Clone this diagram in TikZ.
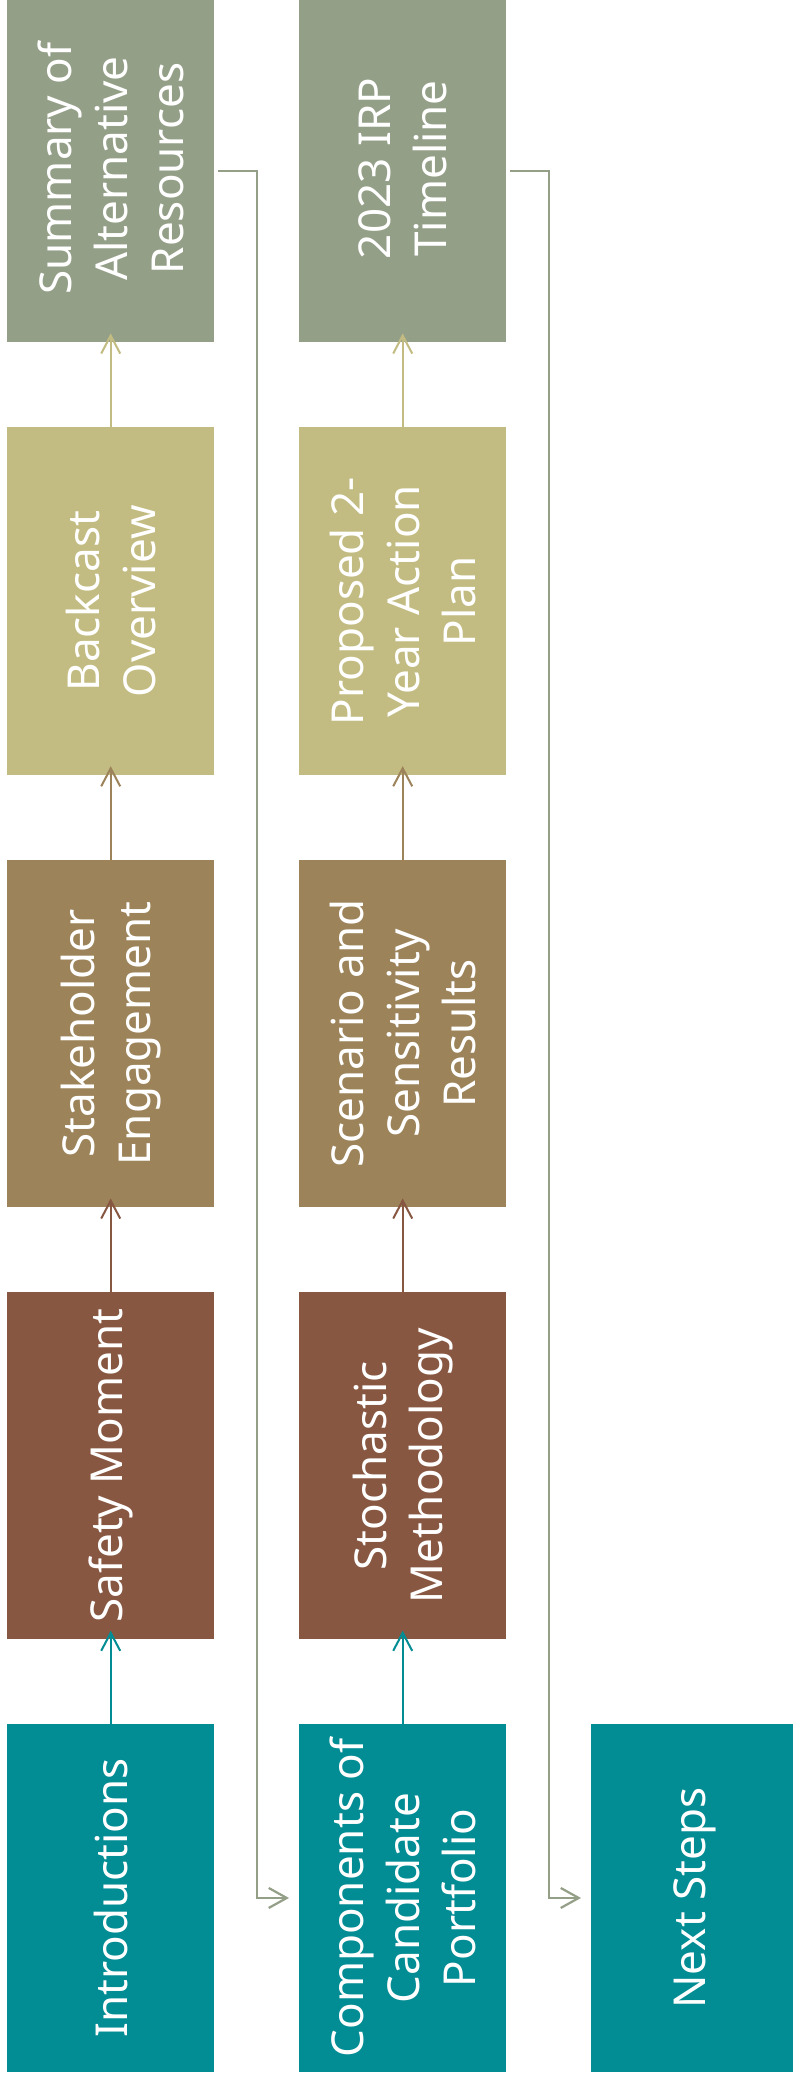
\documentclass[tikz,border=0pt]{standalone}
\usepackage{fontspec}
\setmainfont{Noto Sans}
\usetikzlibrary{arrows.meta,calc}
\definecolor{cteal}{HTML}{028C94}
\definecolor{cbrown}{HTML}{875742}
\definecolor{ctan}{HTML}{9C8359}
\definecolor{ckhaki}{HTML}{C3BC82}
\definecolor{csage}{HTML}{949F88}
\begin{document}
\begin{tikzpicture}[x=1pt,y=-1pt,
  box/.style={draw=none,fill=#1,minimum width=207pt,minimum height=347.5pt,inner sep=0pt,anchor=north west},
  lbl/.style={text=white,rotate=90,align=center,inner sep=0pt,font=\fontsize{44}{56}\selectfont},
  uparr/.style={draw=#1,line width=2pt,-{Straight Barb[length=18pt,width=19pt,line width=2pt]}},
  conn/.style={draw=csage,line width=2.2pt,-{Straight Barb[length=18pt,width=20pt,line width=2.2pt]}}]
\useasboundingbox[fill=white] (0,0) rectangle (793,2082);
% column 1
\node[box=csage,minimum height=342pt] (b15) at (7,0) {};
\node[box=ckhaki] (b14) at (7,427.25) {};
\node[box=ctan] (b13) at (7,859.5) {};
\node[box=cbrown] (b12) at (7,1291.75) {};
\node[box=cteal] (b11) at (7,1724) {};
% column 2
\node[box=csage,minimum height=342pt] (b25) at (299,0) {};
\node[box=ckhaki] (b24) at (299,427.25) {};
\node[box=ctan] (b23) at (299,859.5) {};
\node[box=cbrown] (b22) at (299,1291.75) {};
\node[box=cteal] (b21) at (299,1724) {};
% column 3
\node[box=cteal,minimum width=202pt] (b31) at (591,1724) {};
% labels
\node[lbl] (t15) at (110.5,168.5) {Summary of\\Alternative\\Resources};
\node[lbl] (t14) at (b14.center) {Backcast\\Overview};
\node[lbl] (t13) at (b13.center) {Stakeholder\\Engagement};
\node[lbl] (t12) at (b12.center) {Safety Moment};
\node[lbl] (t11) at (b11.center) {Introductions};
\node[lbl] (t25) at (402.5,168.5) {2023 IRP\\Timeline};
\node[lbl] (t24) at (b24.center) {Proposed 2-\\Year Action\\Plan};
\node[lbl] (t23) at (b23.center) {Scenario and\\Sensitivity\\Results};
\node[lbl] (t22) at (b22.center) {Stochastic\\Methodology};
\node[lbl] (t21) at (b21.center) {Components of\\Candidate\\Portfolio};
\node[lbl] (t31) at (694.5,1898) {Next Steps};
% vertical arrows
\foreach \c in {1,2}{
  \draw[uparr=cteal] ([yshift=-3.5pt]b\c1.north) -- ([yshift=9pt]b\c2.south);
  \draw[uparr=cbrown] ([yshift=-3.5pt]b\c2.north) -- ([yshift=9pt]b\c3.south);
  \draw[uparr=ctan] ([yshift=-3.5pt]b\c3.north) -- ([yshift=9pt]b\c4.south);
  \draw[uparr=ckhaki] ([yshift=-3.5pt]b\c4.north) -- ([yshift=9pt]b\c5.south);
}
% connectors between columns
\coordinate (m1) at ($(b15.east)!0.5!(b21.west)$);
\coordinate (m2) at ($(b25.east)!0.5!(b31.west)$);
\draw[conn] ([xshift=4pt]b15.east) -| (m1) |- ([xshift=-10pt]b21.west);
\draw[conn] ([xshift=4pt]b25.east) -| (m2) |- ([xshift=-10pt]b31.west);
\end{tikzpicture}
\end{document}
